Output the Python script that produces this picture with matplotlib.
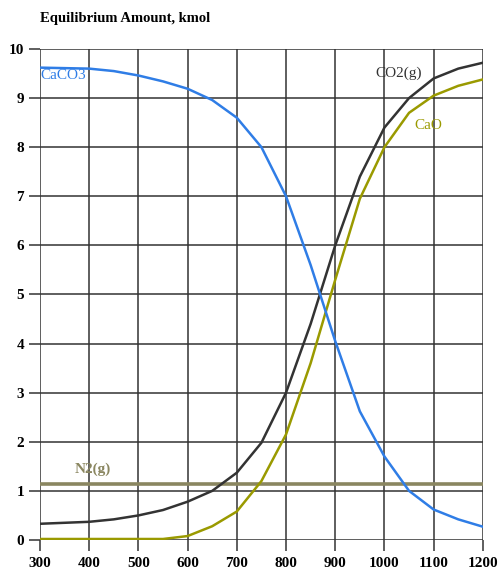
import matplotlib
matplotlib.use("Agg")
import matplotlib.pyplot as plt

temps = [300, 350, 400, 450, 500, 550, 600, 650, 700, 750, 800, 850, 900, 950, 1000, 1050, 1100, 1150, 1200]
caco3 = [9.62, 9.61, 9.60, 9.55, 9.46, 9.34, 9.19, 8.96, 8.60, 8.00, 7.00, 5.60, 4.05, 2.62, 1.70, 1.00, 0.62, 0.42, 0.27]
co2 = [0.33, 0.35, 0.37, 0.42, 0.50, 0.61, 0.78, 1.00, 1.37, 1.98, 3.00, 4.40, 6.00, 7.40, 8.40, 9.00, 9.40, 9.60, 9.72]
cao = [0.02, 0.02, 0.02, 0.02, 0.02, 0.02, 0.08, 0.28, 0.58, 1.20, 2.15, 3.60, 5.30, 6.95, 8.00, 8.70, 9.05, 9.25, 9.38]
n2 = [1.15] * len(temps)

xticks = [300, 400, 500, 600, 700, 800, 900, 1000, 1100, 1200]
yticks = list(range(0, 11))

plt.rcParams['font.family'] = ['Liberation Serif', 'DejaVu Serif']

fig = plt.figure(figsize=(5.01, 5.79), dpi=100)
ax = fig.add_axes([0.0798, 0.0674, 0.884, 0.848])

ax.plot(temps, n2, color='#8a8660', lw=2.6, zorder=3)
ax.plot(temps, co2, color='#333333', lw=1.8, zorder=4)
ax.plot(temps, cao, color='#9a9a00', lw=1.8, zorder=4)
ax.plot(temps, caco3, color='#2f7de6', lw=1.8, zorder=5)

ax.set_xlim(300, 1200)
ax.set_ylim(0, 10)
ax.set_xticks(xticks)
ax.set_yticks(yticks)
ax.grid(True, color='#333333', lw=1.1)
for s in ax.spines.values():
    s.set_visible(False)
ax.tick_params(axis='both', length=8, width=1.1, color='#333333', labelsize=11)
ax.tick_params(axis='x', pad=4)
for lbl in ax.get_xticklabels() + ax.get_yticklabels():
    lbl.set_fontweight('bold')

ax.text(300, 9.45, 'CaCO3', color='#2f7de6', fontsize=11, va='center', ha='left')
ax.text(1028, 9.5, 'CO2(g)', color='#333333', fontsize=11, va='center', ha='center')
ax.text(1090, 8.45, 'CaO', color='#9a9a00', fontsize=11, va='center', ha='center')
ax.text(408, 1.45, 'N2(g)', color='#8a8660', fontsize=11, va='center', ha='center', fontweight='bold')

fig.text(0.079, 0.968, 'Equilibrium Amount, kmol', fontsize=10.5, fontweight='bold', va='center', ha='left')

fig.savefig('out.png', dpi=100)
